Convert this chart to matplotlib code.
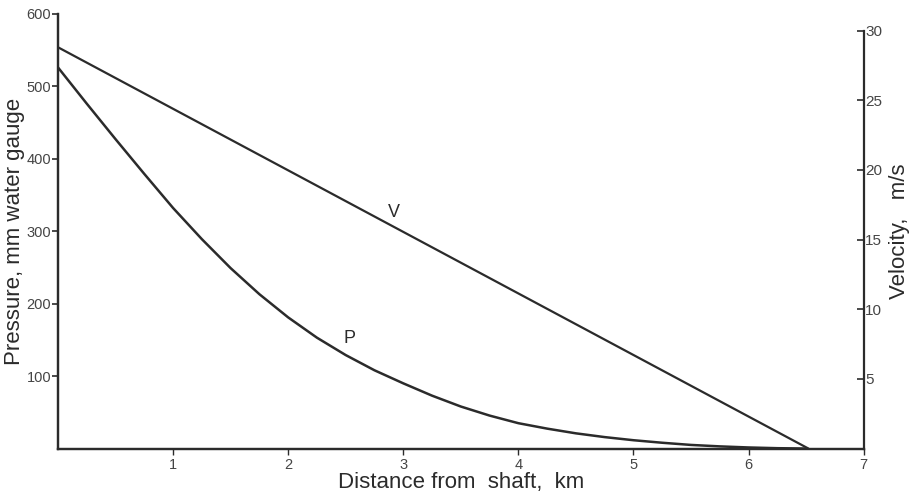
#!/usr/bin/env python3
"""Pressure and velocity along the airway, plotted against distance from shaft."""

import matplotlib

matplotlib.use("Agg")
import matplotlib.pyplot as plt

plt.rcParams["font.family"] = ["Liberation Sans", "DejaVu Sans"]

INK = "#2b2b2b"
LABEL = "#454545"

# distance from shaft, km
p_dist = [0.0, 0.25, 0.5, 0.75, 1.0, 1.25, 1.5, 1.75, 2.0, 2.25, 2.5, 2.75, 3.0,
          3.25, 3.5, 3.75, 4.0, 4.25, 4.5, 4.75, 5.0, 5.25, 5.5, 5.75, 6.0, 6.25, 6.5]
# pressure, mm water gauge
p_vals = [526, 476, 427, 379, 332, 289, 249, 213, 181, 153, 129, 108, 90,
          73, 58, 45.5, 35, 27.5, 21, 15.8, 11.5, 8, 5, 3, 1.5, 0.5, 0]

v_dist = [0.0, 6.52]
v_vals = [28.8, 0.0]  # velocity, m/s

x_ticks = [1, 2, 3, 4, 5, 6, 7]
p_ticks = [100, 200, 300, 400, 500, 600]
v_ticks = [5, 10, 15, 20, 25, 30]

fig = plt.figure(figsize=(9.12, 4.94), dpi=100)
ax = fig.add_axes([0.0636, 0.092, 0.8834, 0.880])
ax2 = ax.twinx()

ax.plot(p_dist, p_vals, color=INK, lw=1.8, solid_capstyle="round", solid_joinstyle="round")
ax2.plot(v_dist, v_vals, color=INK, lw=1.6, solid_capstyle="round")

ax.set_xlim(0, 7)
ax.set_ylim(0, 600)
ax2.set_ylim(0, 31.2)

ax.set_xticks(x_ticks)
ax.set_yticks(p_ticks)
ax2.set_yticks(v_ticks)

for a in (ax, ax2):
    a.spines["top"].set_visible(False)
    for s in a.spines.values():
        s.set_color(INK)
        s.set_linewidth(1.6)
ax2.spines["right"].set_bounds(0, 30)
ax.spines["right"].set_visible(False)

ax.tick_params(axis="x", direction="out", length=4, width=1, colors=INK,
               labelsize=10.5, labelcolor=LABEL, pad=3)
ax.tick_params(axis="y", direction="out", length=4, width=1.2, colors=INK,
               labelsize=10.5, labelcolor=LABEL, pad=1)
ax2.tick_params(axis="y", direction="in", length=5, width=1.2, colors=INK,
                labelsize=11, labelcolor=LABEL, pad=1)
for lbl in ax.get_xticklabels():
    lbl.set_family(["Liberation Sans Narrow", "Liberation Sans", "DejaVu Sans"])

ax.set_xlabel("Distance from  shaft,  km", fontsize=16, color=INK, labelpad=0)
ax.set_ylabel("Pressure, mm water gauge", fontsize=16, color=INK, labelpad=1)
ax2.set_ylabel("Velocity,   m/s", fontsize=16, color=INK, labelpad=5)

ax.text(2.48, 140, "P", fontsize=13, color=INK, ha="left", va="bottom")
ax2.text(2.92, 16.3, "V", fontsize=13, color=INK, ha="center", va="bottom")

fig.savefig("out.png", dpi=100)
